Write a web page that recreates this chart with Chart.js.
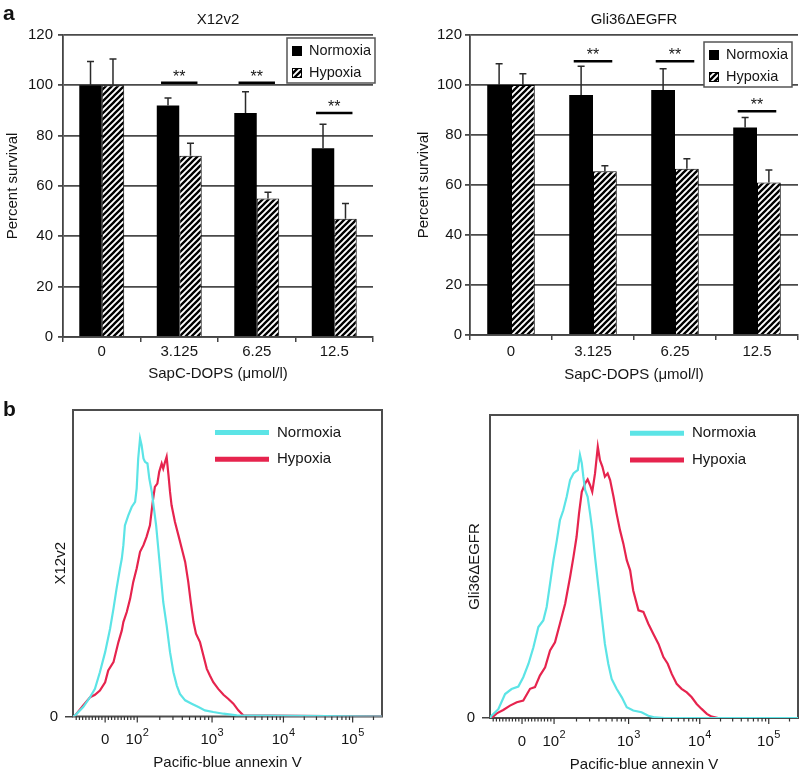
<!DOCTYPE html>
<html>
<head>
<meta charset="utf-8">
<script src="https://cdn.jsdelivr.net/npm/chart.js@4.4.1/dist/chart.umd.min.js"></script>
<style>
  body { margin: 0; background: #fff; font-family: "Liberation Sans", Arial, sans-serif; }
  #wrap { position: relative; width: 800px; height: 775px; overflow: hidden; }
  canvas { position: absolute; }
  .tag { position: absolute; font-weight: bold; font-size: 21px; color: #111; }
</style>
</head>
<body>
<div id="wrap">
  <canvas id="barX12" width="400" height="390" style="left:0;top:0"></canvas>
  <canvas id="barGli" width="400" height="390" style="left:400px;top:0"></canvas>
  <canvas id="flowX12" width="400" height="385" style="left:0;top:390px"></canvas>
  <canvas id="flowGli" width="400" height="385" style="left:400px;top:390px"></canvas>
  <div class="tag" style="left:3px;top:1px">a</div>
  <div class="tag" style="left:3px;top:397px">b</div>
</div>
<script>
// ---- panel a: percent survival ----
const doses = ['0', '3.125', '6.25', '12.5'];

const x12Normoxia = [100, 92, 89, 75];
const x12NormoxiaSd = [9.5, 3, 8.5, 9.5];
const x12Hypoxia = [100, 72, 55, 47];
const x12HypoxiaSd = [10.5, 5, 2.5, 6];
const x12Sig = [null, 101, 101, 89];   // level of the ** bar

const gliNormoxia = [100, 96, 98, 83];
const gliNormoxiaSd = [8.5, 11.5, 8.5, 4];
const gliHypoxia = [100, 65.5, 66.5, 61];
const gliHypoxiaSd = [4.5, 2.2, 4, 5];
const gliSig = [null, 109.5, 109.5, 89.5];

// ---- panel b: annexin V histograms (channel, % of max) ----
const fluorTickCh = [104, 208, 450, 681, 905];
const fluorTickLabels = ['0', '10²', '10³', '10⁴', '10⁵'];

const x12NormoxiaCh = [0, 7, 33, 55, 71, 87, 104, 120, 131, 141, 152, 158, 163, 168, 179, 190, 201, 206, 211, 217, 222, 228, 233, 241, 247, 255, 262, 269, 276, 284, 292, 303, 314, 325, 336, 346, 363, 384, 406, 427, 454, 487, 530, 1000];
const x12NormoxiaCount = [0, 0.4, 3.4, 6.9, 9.9, 15.9, 23.1, 31.5, 38.7, 45.9, 53.1, 56.7, 61.5, 68.6, 72.2, 75.2, 77.0, 81.8, 92.6, 99.8, 97.4, 92.6, 91.4, 90.8, 85.4, 80.6, 74.6, 68.6, 60.3, 50.7, 41.1, 32.7, 23.1, 15.9, 11.1, 8.1, 5.8, 4.6, 3.4, 2.2, 1.6, 1.0, 0.4, 0];
const x12HypoxiaCh = [0, 7, 33, 55, 71, 87, 104, 114, 131, 147, 158, 163, 174, 185, 195, 206, 217, 228, 238, 249, 258, 265, 273, 279, 287, 292, 298, 303, 309, 314, 319, 330, 341, 352, 363, 373, 381, 390, 398, 411, 422, 433, 443, 454, 470, 487, 503, 519, 535, 551, 1000];
const x12HypoxiaCount = [0, 0.4, 4.0, 6.9, 7.8, 9.3, 12.3, 16.5, 19.5, 26.7, 30.9, 33.9, 37.5, 42.3, 48.3, 53.1, 59.1, 61.5, 64.5, 68.6, 77.0, 82.4, 83.6, 87.8, 90.8, 89.0, 91.4, 93.2, 86.6, 80.6, 75.8, 69.8, 65.1, 60.3, 55.5, 48.3, 41.1, 33.9, 29.7, 26.7, 21.9, 17.1, 14.7, 12.3, 9.9, 7.8, 6.3, 4.6, 2.2, 0.4, 0];

const gliNormoxiaCh = [0, 5, 27, 49, 70, 92, 108, 125, 141, 157, 173, 184, 195, 206, 217, 227, 238, 249, 260, 271, 278, 285, 292, 298, 303, 309, 317, 325, 332, 341, 352, 363, 373, 384, 395, 411, 428, 444, 465, 492, 514, 536, 568, 1000];
const gliNormoxiaCount = [0, 0.8, 3.2, 8.7, 10.5, 11.4, 14.8, 19.7, 25.7, 33.0, 35.4, 40.3, 48.8, 57.3, 64.5, 71.8, 75.4, 80.3, 86.4, 88.8, 89.4, 90.0, 95.5, 92.5, 87.6, 82.7, 80.3, 74.2, 68.2, 58.5, 47.5, 36.6, 26.9, 19.7, 14.2, 10.6, 7.5, 3.9, 2.7, 2.1, 0.8, 0.2, 0, 0];
const gliHypoxiaCh = [0, 5, 22, 43, 65, 87, 108, 130, 146, 162, 179, 195, 211, 227, 244, 260, 271, 281, 289, 298, 309, 317, 325, 332, 341, 350, 357, 365, 373, 382, 390, 401, 411, 422, 433, 444, 455, 465, 482, 498, 514, 530, 547, 563, 577, 590, 606, 622, 639, 655, 671, 687, 704, 720, 741, 1000];
const gliHypoxiaCount = [0, 0, 1.7, 2.9, 4.5, 5.7, 6.3, 10.6, 11.2, 15.4, 18.4, 24.5, 27.5, 34.2, 41.5, 51.2, 58.5, 65.7, 74.2, 82.1, 85.2, 86.6, 84.5, 82.1, 88.8, 98.5, 93.6, 91.2, 87.6, 88.8, 86.4, 80.3, 74.2, 68.2, 63.3, 57.3, 53.6, 46.3, 39.1, 38.5, 34.2, 30.6, 26.9, 22.1, 19.7, 16.0, 12.4, 10.6, 9.3, 7.5, 5.1, 3.3, 1.5, 0.5, 0, 0];

const FONT = '"Liberation Sans", Arial, sans-serif';
const INK = '#151515';
const CYAN = '#5ce4e6';
const RED = '#e6244e';

Chart.defaults.font.family = FONT;
Chart.defaults.font.size = 15;
Chart.defaults.color = INK;

function stripes() {
    const c = document.createElement('canvas');
    c.width = c.height = 6;
    const g = c.getContext('2d');
    g.fillStyle = '#fff';
    g.fillRect(0, 0, 6, 6);
    g.strokeStyle = '#000';
    g.lineWidth = 2.3;
    g.beginPath();
    g.moveTo(-1, 7); g.lineTo(7, -1);
    g.moveTo(-1, 1); g.lineTo(1, -1);
    g.moveTo(5, 7); g.lineTo(7, 5);
    g.stroke();
    return g.createPattern(c, 'repeat');
}
const hatch = stripes();

// whiskers, ** markers, title and boxed legend for the bar panels
const barExtras = {
    id: 'barExtras',
    afterDatasetsDraw(chart, args, opts) {
        const { ctx, chartArea } = chart;
        const x = chart.scales.x, y = chart.scales.y;
        ctx.save();

        chart.data.datasets.forEach((ds, di) => {
            chart.getDatasetMeta(di).data.forEach((bar, i) => {
                const top = y.getPixelForValue(ds.data[i] + ds.sd[i]);
                ctx.strokeStyle = '#2a2a2a';
                ctx.lineWidth = 1.5;
                ctx.beginPath();
                ctx.moveTo(bar.x, bar.y);
                ctx.lineTo(bar.x, top);
                ctx.moveTo(bar.x - 3.5, top);
                ctx.lineTo(bar.x + 3.5, top);
                ctx.stroke();
            });
        });

        const half = (x.getPixelForValue(1) - x.getPixelForValue(0)) * 0.235;
        opts.levels.forEach((lvl, i) => {
            if (lvl == null) return;
            const cx = x.getPixelForValue(i), ly = y.getPixelForValue(lvl);
            ctx.strokeStyle = '#000';
            ctx.lineWidth = 2.5;
            ctx.beginPath();
            ctx.moveTo(cx - half, ly);
            ctx.lineTo(cx + half, ly);
            ctx.stroke();
            ctx.fillStyle = INK;
            ctx.font = '16px ' + FONT;
            ctx.textAlign = 'center';
            ctx.textBaseline = 'alphabetic';
            ctx.fillText('**', cx, ly - 1);
        });

        ctx.fillStyle = INK;
        ctx.font = '15px ' + FONT;
        ctx.textAlign = 'center';
        ctx.textBaseline = 'middle';
        ctx.fillText(opts.title, (chartArea.left + chartArea.right) / 2, chartArea.top - 15);

        const bw = 88, bh = 45;
        const bx = chartArea.right + opts.legendDx - bw, by = chartArea.top + opts.legendDy;
        ctx.fillStyle = '#fff';
        ctx.fillRect(bx, by, bw, bh);
        ctx.strokeStyle = '#555';
        ctx.lineWidth = 1.5;
        ctx.strokeRect(bx, by, bw, bh);
        chart.data.datasets.forEach((ds, i) => {
            const sy = by + 8 + i * 22;
            ctx.fillStyle = ds.backgroundColor;
            ctx.fillRect(bx + 5, sy, 10, 10);
            ctx.strokeStyle = '#000';
            ctx.lineWidth = 1;
            ctx.strokeRect(bx + 5.5, sy + 0.5, 9, 9);
            ctx.fillStyle = INK;
            ctx.font = '14.5px ' + FONT;
            ctx.textAlign = 'left';
            ctx.textBaseline = 'middle';
            ctx.fillText(ds.label, bx + 22, sy + 5);
        });
        ctx.restore();
    }
};

function barChart(id, title, normoxia, normoxiaSd, hypoxia, hypoxiaSd, sig, L) {
    return new Chart(document.getElementById(id), {
        type: 'bar',
        data: {
            labels: doses,
            datasets: [
                { label: 'Normoxia', data: normoxia, sd: normoxiaSd, backgroundColor: '#000',
                  categoryPercentage: 0.58, barPercentage: 1 },
                { label: 'Hypoxia', data: hypoxia, sd: hypoxiaSd, backgroundColor: hatch,
                  borderColor: '#000', borderWidth: 1, categoryPercentage: 0.58, barPercentage: 1 }
            ]
        },
        options: {
            responsive: false,
            animation: false,
            layout: { padding: { top: 35, right: L.padRight, left: 0, bottom: 0 } },
            plugins: {
                legend: { display: false },
                tooltip: { enabled: false },
                barExtras: { title, levels: sig, legendDx: L.legendDx, legendDy: L.legendDy }
            },
            scales: {
                x: {
                    grid: { offset: true, drawOnChartArea: false, tickLength: 5, color: '#444', lineWidth: 1.5 },
                    border: { color: '#444', width: 1.8 },
                    ticks: { padding: L.xTickPad, maxRotation: 0 },
                    title: { display: true, text: 'SapC-DOPS (μmol/l)', padding: { top: 0, bottom: L.xTitlePad } },
                    afterFit: s => { s.height = L.xH; }
                },
                y: {
                    min: 0, max: 120,
                    ticks: { stepSize: 20, padding: L.yTickPad },
                    grid: { color: '#4a4a4a', lineWidth: 1.8, tickLength: 5 },
                    border: { color: '#444', width: 1.8 },
                    title: { display: true, text: 'Percent survival', padding: { top: L.yTitlePad, bottom: 0 } },
                    afterFit: s => { s.width = L.yW; }
                }
            }
        },
        plugins: [barExtras]
    });
}

barChart('barX12', 'X12v2', x12Normoxia, x12NormoxiaSd, x12Hypoxia, x12HypoxiaSd, x12Sig,
    { padRight: 27, yW: 63, xH: 53, xTickPad: 1, xTitlePad: 7, yTickPad: 5, yTitlePad: 4, legendDx: 2, legendDy: 3 });
barChart('barGli', 'Gli36ΔEGFR', gliNormoxia, gliNormoxiaSd, gliHypoxia, gliHypoxiaSd, gliSig,
    { padRight: 2, yW: 70, xH: 55, xTickPad: 3, xTitlePad: 6, yTickPad: 3, yTitlePad: 15, legendDx: -6, legendDy: 7 });

// minor tick channels: linear stretch round zero, then log steps inside each decade
const minorCh = [];
for (let m = 1; m <= 9; m++) {
    const step = (fluorTickCh[1] - fluorTickCh[0]) * m / 10;
    minorCh.push(fluorTickCh[0] + step, fluorTickCh[0] - step);
}
for (let k = 1; k < fluorTickCh.length; k++) {
    const lo = fluorTickCh[k];
    const hi = k + 1 < fluorTickCh.length ? fluorTickCh[k + 1] : lo + (lo - fluorTickCh[k - 1]);
    for (let m = 2; m <= 9; m++) minorCh.push(lo + Math.log10(m) * (hi - lo));
}

const SUP = '⁰¹²³⁴⁵⁶⁷⁸⁹';

// frame, tick marks, decade labels and line legend for the histograms
const flowExtras = {
    id: 'flowExtras',
    beforeDatasetsDraw(chart) {
        const { ctx, chartArea: a } = chart;
        ctx.save();
        ctx.strokeStyle = '#4d4d4d';
        ctx.lineWidth = 2;
        ctx.strokeRect(a.left, a.top, a.right - a.left, a.bottom - a.top);
        ctx.restore();
    },
    afterDraw(chart, args, opts) {
        const { ctx, chartArea: a } = chart;
        const x = chart.scales.x;
        ctx.save();
        ctx.strokeStyle = '#333';
        ctx.lineWidth = 1.2;
        ctx.beginPath();
        fluorTickCh.forEach(c => {
            const px = x.getPixelForValue(c);
            ctx.moveTo(px, a.bottom); ctx.lineTo(px, a.bottom + 6);
        });
        minorCh.filter(c => c > 0 && c < 1000).forEach(c => {
            const px = x.getPixelForValue(c);
            ctx.moveTo(px, a.bottom); ctx.lineTo(px, a.bottom + 3.5);
        });
        ctx.stroke();

        // tick labels with a raised exponent
        ctx.fillStyle = INK;
        ctx.textBaseline = 'middle';
        ctx.textAlign = 'left';
        const ly = a.bottom + 23.5;
        fluorTickLabels.forEach((lab, i) => {
            const base = lab.replace(/[⁰-⁹²³¹]/g, '');
            const exp = [...lab].filter(ch => SUP.includes(ch)).map(ch => SUP.indexOf(ch)).join('');
            ctx.font = '15px ' + FONT;
            const wb = ctx.measureText(base).width;
            ctx.font = '11px ' + FONT;
            const we = exp ? ctx.measureText(exp).width + 0.5 : 0;
            const x0 = x.getPixelForValue(fluorTickCh[i]) - (wb + we) / 2;
            ctx.font = '15px ' + FONT;
            ctx.fillText(base, x0, ly);
            if (exp) {
                ctx.font = '11px ' + FONT;
                ctx.fillText(exp, x0 + wb + 0.5, ly - 7);
            }
        });

        chart.data.datasets.forEach((ds, i) => {
            const x1 = a.right - opts.legendRight, yy = a.top + opts.legendTop + i * 26.8;
            ctx.strokeStyle = ds.borderColor;
            ctx.lineWidth = 5;
            ctx.beginPath();
            ctx.moveTo(x1, yy); ctx.lineTo(x1 + 54, yy);
            ctx.stroke();
            ctx.fillStyle = INK;
            ctx.font = '15px ' + FONT;
            ctx.textAlign = 'left';
            ctx.textBaseline = 'middle';
            ctx.fillText(ds.label, x1 + 62, yy);
        });
        ctx.restore();
    }
};

function points(ch, count) {
    return ch.map((c, i) => ({ x: c, y: count[i] }));
}

function flowChart(id, yTitle, normoxia, hypoxia, L) {
    return new Chart(document.getElementById(id), {
        type: 'line',
        data: {
            datasets: [
                { label: 'Normoxia', data: normoxia, borderColor: CYAN, borderWidth: 2.2, pointRadius: 0, tension: 0 },
                { label: 'Hypoxia', data: hypoxia, borderColor: RED, borderWidth: 2.2, pointRadius: 0, tension: 0 }
            ]
        },
        options: {
            responsive: false,
            animation: false,
            layout: { padding: { top: L.padTop, right: L.padRight, left: 0, bottom: 0 } },
            plugins: {
                legend: { display: false },
                tooltip: { enabled: false },
                flowExtras: { legendRight: L.legendRight, legendTop: L.legendTop }
            },
            scales: {
                x: {
                    type: 'linear', min: 0, max: 1000,
                    afterBuildTicks: s => { s.ticks = fluorTickCh.map(v => ({ value: v })); },
                    ticks: { display: false },
                    grid: { drawOnChartArea: false, drawTicks: false },
                    border: { display: false },
                    title: { display: true, text: 'Pacific-blue annexin V', padding: { top: 0, bottom: L.xTitlePad } },
                    afterFit: s => { s.height = L.xH; }
                },
                y: {
                    min: 0, max: 110,
                    afterBuildTicks: s => { s.ticks = [{ value: 0 }]; },
                    ticks: { padding: 7, callback: v => String(v) },
                    grid: { drawOnChartArea: false, tickLength: 8, color: '#444', lineWidth: 1.5 },
                    border: { display: false },
                    title: { display: true, text: yTitle, padding: { top: L.yTitlePad, bottom: 0 } },
                    afterFit: s => { s.width = L.yW; }
                }
            }
        },
        plugins: [flowExtras]
    });
}

flowChart('flowX12', 'X12v2', points(x12NormoxiaCh, x12NormoxiaCount), points(x12HypoxiaCh, x12HypoxiaCount),
    { padTop: 20, padRight: 18, yW: 73, xH: 58.5, xTitlePad: 3, yTitlePad: 52, legendRight: 167, legendTop: 22.5 });
flowChart('flowGli', 'Gli36ΔEGFR', points(gliNormoxiaCh, gliNormoxiaCount), points(gliHypoxiaCh, gliHypoxiaCount),
    { padTop: 25, padRight: 2, yW: 90, xH: 57, xTitlePad: 1, yTitlePad: 66, legendRight: 168, legendTop: 18.3 });
</script>
</body>
</html>
